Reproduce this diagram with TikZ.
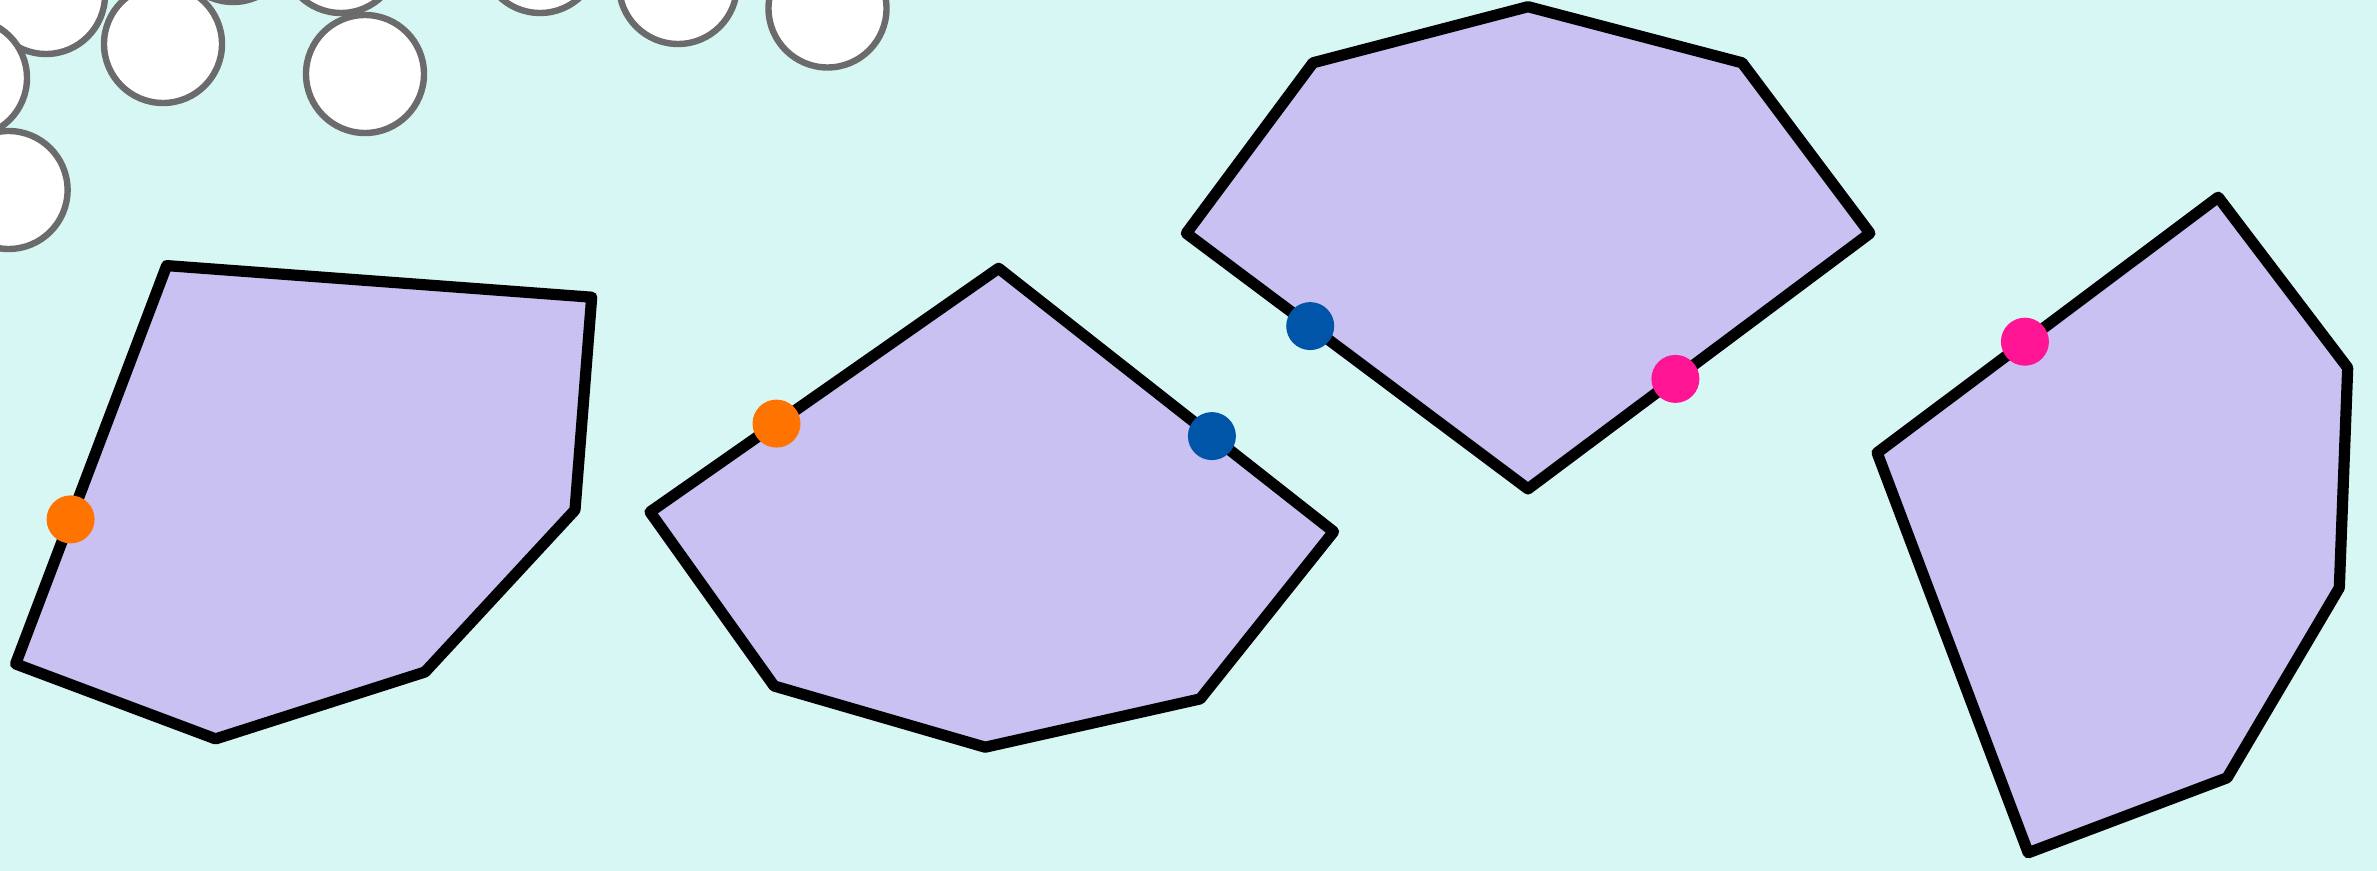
\documentclass[tikz,border=0pt]{standalone}
\definecolor{bgc}{HTML}{D7F7F4}
\definecolor{polyc}{HTML}{C8C1F1}
\definecolor{ringc}{HTML}{6B6B6B}
\definecolor{orangec}{HTML}{FF7300}
\definecolor{bluec}{HTML}{0055A8}
\definecolor{pinkc}{HTML}{FF1493}
\tikzset{
  ball/.style={draw=ringc, fill=white, line width=3.2pt},
  poly/.style={draw=black, fill=polyc, line width=5.6pt, line join=round},
  dot/.style={fill=#1, draw=none},
}
\begin{document}
\begin{tikzpicture}[x=0.5pt, y=-0.5pt]
\useasboundingbox (0,0) rectangle (2377,871);
\fill[bgc] (0,0) rectangle (2377,871);
\begin{scope}
\clip (0,0) rectangle (2377,871);
% white circles
\foreach \cx/\cy in {46/-5, 233/-57, 341/-46, 540/-46, 678/-15, 827.5/8.5, -32/78, 163/44, 8.6/190, 365/74}
  \draw[ball] (\cx,\cy) circle[radius=29.5pt];
% polygons
\draw[poly] (166.7,265.6) -- (591.7,297.2) -- (575,510) -- (425,672) -- (215.6,738.9) -- (15.6,663.9) -- cycle;
\draw[poly] (998.6,268.3) -- (1333.6,531.7) -- (1200.2,698.9) -- (985.2,747.2) -- (774.1,686) -- (650,512) -- cycle;
\draw[poly] (1528,6.7) -- (1742.1,62.8) -- (1869.9,233.3) -- (1528,488.9) -- (1186.3,233.3) -- (1313,62.8) -- cycle;
\draw[poly] (2218.2,197.2) -- (2347.7,367.8) -- (2339.3,587.8) -- (2227.1,777.8) -- (2028.2,852.8) -- (1877.1,452.8) -- cycle;
% dots
\fill[dot=orangec] (70.6,519.4) circle[radius=12pt];
\fill[dot=orangec] (776.5,423.6) circle[radius=12pt];
\fill[dot=bluec] (1211.9,436.1) circle[radius=12pt];
\fill[dot=bluec] (1310.2,326.1) circle[radius=12pt];
\fill[dot=pinkc] (1675.4,378.9) circle[radius=12pt];
\fill[dot=pinkc] (2024.9,341.7) circle[radius=12pt];
\end{scope}
\end{tikzpicture}
\end{document}
